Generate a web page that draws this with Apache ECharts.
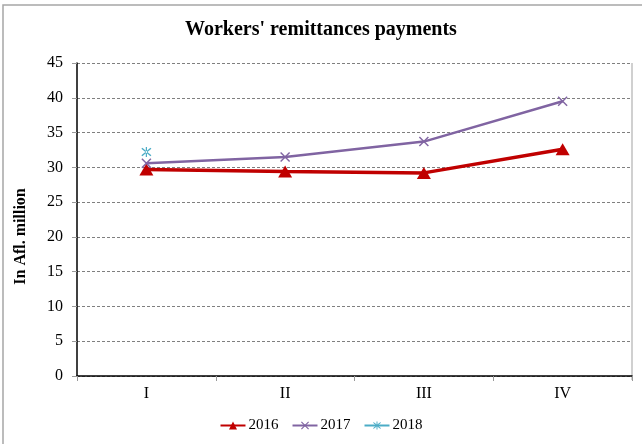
<!DOCTYPE html>
<html>
<head>
<meta charset="utf-8">
<script src="https://cdn.jsdelivr.net/npm/echarts@6/dist/echarts.min.js"></script>
<style>
  html, body { margin: 0; padding: 0; background: #fff; }
  #chart { width: 642px; height: 444px; }
</style>
</head>
<body>
<div id="chart"></div>
<script>
// Quarterly workers' remittances payments, Afl. million
const quarters = ['I', 'II', 'III', 'IV'];
const values2016 = [29.7, 29.4, 29.2, 32.6];
const values2017 = [30.6, 31.5, 33.7, 39.5];
const values2018 = [32.2, null, null, null];
const yTicks = { min: 0, max: 45, interval: 5 };

const serif = '"Liberation Serif", "DejaVu Serif", serif';

// cross-shaped marker and asterisk marker as filled outlines
const crossPath = 'path://M1 0 L5 4 L9 0 L10 1 L6 5 L10 9 L9 10 L5 6 L1 10 L0 9 L4 5 L0 1 Z';
const starPath = 'path://M1 0 L5 4 L9 0 L10 1 L6 5 L10 9 L9 10 L5 6 L1 10 L0 9 L4 5 L0 1 Z M4.4 -1 L4.4 11 L5.6 11 L5.6 -1 Z';

const chart = echarts.init(document.getElementById('chart'), null, { renderer: 'canvas' });

chart.setOption({
  animation: false,
  backgroundColor: '#ffffff',
  title: {
    text: "Workers' remittances payments",
    left: 'center',
    top: 15,
    padding: [5, 0, 5, 10],
    textStyle: { fontFamily: serif, fontWeight: 'bold', fontSize: 20, color: '#000' }
  },
  legend: {
    bottom: 6,
    left: 'center',
    itemWidth: 25,
    itemHeight: 10,
    itemGap: 13,
    textStyle: { fontFamily: serif, fontSize: 15, color: '#000', padding: [0, 0, 0, -2] },
    data: ['2016', '2017', '2018']
  },
  grid: { left: 77, right: 10, top: 63, bottom: 68, containLabel: false, outerBoundsMode: 'none' },
  xAxis: {
    type: 'category',
    data: quarters,
    boundaryGap: true,
    axisLine: { lineStyle: { color: '#000', width: 1.5 } },
    axisTick: { show: true, length: 5, lineStyle: { color: '#999' } },
    axisLabel: { fontFamily: serif, fontSize: 16, color: '#000', margin: 10 },
    splitLine: { show: false }
  },
  yAxis: {
    type: 'value',
    min: yTicks.min,
    max: yTicks.max,
    interval: yTicks.interval,
    name: 'In Afl. million',
    nameLocation: 'middle',
    nameRotate: 90,
    nameGap: 48,
    nameTextStyle: { fontFamily: serif, fontWeight: 'bold', fontSize: 16, color: '#000', padding: [0, 34, 0, 0] },
    axisLine: { show: true, lineStyle: { color: '#000', width: 1.5 } },
    axisTick: { show: true, length: 5, lineStyle: { color: '#999' } },
    axisLabel: { fontFamily: serif, fontSize: 16, color: '#000', margin: 14 },
    splitLine: { show: true, lineStyle: { color: '#7f7f7f', width: 1, type: [3, 2] } }
  },
  graphic: [
    // outer frame (top and left edges visible)
    { type: 'rect', shape: { x: 3, y: 5, width: 700, height: 500 },
      style: { fill: 'none', stroke: '#a6a6a6', lineWidth: 1.5 }, silent: true },
    // right edge of plot area
    { type: 'line', shape: { x1: 632, y1: 63, x2: 632, y2: 380 },
      style: { stroke: '#c0c0c0', lineWidth: 1.5 }, silent: true }
  ],
  series: [
    {
      name: '2016', type: 'line', data: values2016,
      symbol: 'triangle', symbolSize: [14, 12],
      lineStyle: { color: '#c00000', width: 3.5 },
      itemStyle: { color: '#c00000' },
      z: 3
    },
    {
      name: '2017', type: 'line', data: values2017,
      symbol: crossPath, symbolSize: 10,
      lineStyle: { color: '#8064a2', width: 2.5 },
      itemStyle: { color: '#8064a2' },
      z: 4
    },
    {
      name: '2018', type: 'line', data: values2018,
      symbol: starPath, symbolSize: 10,
      lineStyle: { color: '#4bacc6', width: 2.5 },
      itemStyle: { color: '#4bacc6' },
      z: 5
    }
  ]
});
</script>
</body>
</html>
